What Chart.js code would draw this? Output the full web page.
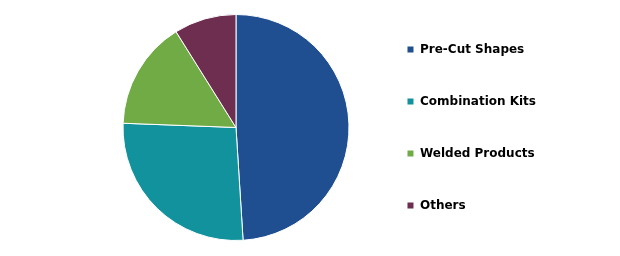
<!DOCTYPE html>
<html>
<head>
<meta charset="utf-8">
<script src="https://cdn.jsdelivr.net/npm/chart.js@4"></script>
<style>
  html, body { margin: 0; padding: 0; background: #ffffff; }
  #wrap { width: 620px; height: 256px; position: relative; }
</style>
</head>
<body>
<div id="wrap"><canvas id="c" width="620" height="256"></canvas></div>
<script>
const categories = ["Pre-Cut Shapes", "Combination Kits", "Welded Products", "Others"];
const shares = [49.0, 26.6, 15.5, 8.9];
const colors = ["#1F4E91", "#12929C", "#70AB46", "#6D2E50"];

new Chart(document.getElementById('c'), {
  type: 'pie',
  data: {
    labels: categories,
    datasets: [{
      data: shares,
      backgroundColor: colors,
      borderColor: '#ffffff',
      borderWidth: 1
    }]
  },
  options: {
    responsive: false,
    animation: false,
    radius: 113,
    layout: { padding: { left: 105, right: 74, top: 0, bottom: 1 } },
    plugins: {
      tooltip: { enabled: false },
      legend: {
        position: 'right',
        align: 'center',
        labels: {
          boxWidth: 7,
          boxHeight: 7,
          padding: 40,
          color: '#000000',
          font: { family: 'DejaVu Sans', size: 12, weight: 'bold' }
        }
      }
    }
  }
});
</script>
</body>
</html>
